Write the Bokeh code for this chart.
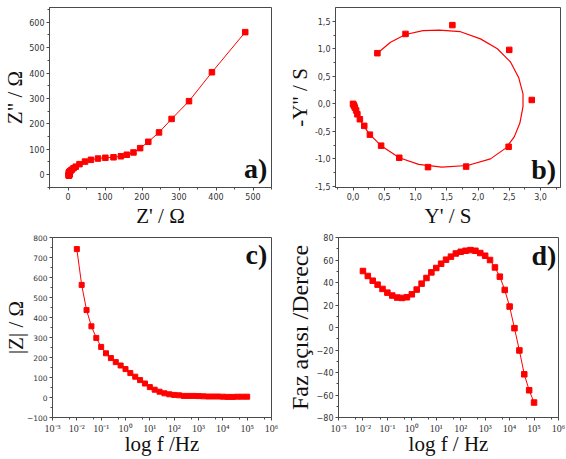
from bokeh.plotting import figure
from bokeh.layouts import column, row
from bokeh.models import FixedTicker, CustomJSTickFormatter, Label, Range1d
from bokeh.embed import file_html
from bokeh.resources import INLINE

# Measurement frequencies (Hz), five per decade
freq = [0.01, 0.0158, 0.0251, 0.0398, 0.0631, 0.1, 0.158, 0.251, 0.398, 0.631,
        1, 1.58, 2.51, 3.98, 6.31, 10, 15.8, 25.1, 39.8, 63.1,
        100, 158, 251, 398, 631, 1000, 1580, 2510, 3980, 6310,
        10000, 15800, 25100, 39800, 63100, 100000]

# Impedance modulus |Z| (ohm)
z_mod = [742, 563, 437, 356, 298, 253, 221, 197, 177, 160,
         142, 122, 104, 87, 70, 52, 39, 29, 21, 16,
         13, 11, 8, 8, 8, 7, 6, 5, 5, 5,
         4, 3, 3, 4, 4, 4]

# Phase angle (degrees)
phase = [50.2, 45.8, 41.6, 38.1, 34.3, 31.0, 28.4, 26.6, 26.3, 26.9,
         29.5, 33.7, 39.0, 44.0, 49.0, 52.9, 56.7, 60.3, 63.0, 65.8,
         67.3, 68.2, 68.8, 68.2, 66.2, 63.8, 60.0, 53.4, 45.2, 33.4,
         18.6, -0.6, -20.4, -41.6, -55.8, -66.7]

# Nyquist: real and imaginary impedance (ohm)
z_re = [479, 389, 327, 280, 246, 217, 195, 177, 159, 143,
        123, 101, 81, 62, 46, 31, 21, 15, 10, 7,
        5, 4, 3, 3, 3, 3, 3, 3, 3.5, 4,
        4, 3, 3, 3, 2, 2]
z_im = [561, 403, 289, 219, 166, 129, 104, 87, 78, 72,
        68, 66, 63, 58, 51, 41, 31, 25, 19, 15,
        12, 10, 8, 7, 7, 6, 5, 4, 3.5, 3,
        1, 0, -1, -3, -3, -4]

# Admittance plane points (S)
y_re = [0.39, 0.84, 1.59, 2.50, 2.86, 2.49, 1.81, 1.20, 0.74, 0.45,
        0.27, 0.18, 0.11, 0.07, 0.05, 0.03, 0.02, 0.01, 0.0]
y_im = [0.92, 1.27, 1.43, 0.98, 0.07, -0.78, -1.14, -1.15, -0.98, -0.76,
        -0.56, -0.40, -0.28, -0.19, -0.12, -0.07, -0.04, -0.02, 0.0]

# Fitted admittance curve (S)
fit_re = [0.39, 0.60, 0.84, 1.12, 1.38, 1.72, 2.04, 2.31, 2.52, 2.65,
          2.72, 2.72, 2.67, 2.58, 2.45, 2.20, 1.83, 1.42, 1.05, 0.74,
          0.45, 0.27, 0.17, 0.09, 0.03, 0.0]
fit_im = [0.92, 1.12, 1.26, 1.33, 1.34, 1.31, 1.18, 1.00, 0.76, 0.48,
          0.18, -0.05, -0.35, -0.60, -0.80, -1.00, -1.12, -1.15, -1.10, -0.98,
          -0.76, -0.56, -0.40, -0.24, -0.09, 0.0]

RED = "#ff0000"
FRAME = "#4a4a4a"
SERIF = "Liberation Serif"
SANS = "DejaVu Sans"

LOG_FMT = CustomJSTickFormatter(code="""
const sup = {'-': '\u207b', '0': '\u2070', '1': '\u00b9', '2': '\u00b2', '3': '\u00b3',
             '4': '\u2074', '5': '\u2075', '6': '\u2076', '7': '\u2077', '8': '\u2078', '9': '\u2079'};
const e = Math.round(Math.log10(tick));
return '10' + String(e).split('').map(c => sup[c]).join('');
""")
COMMA_FMT = CustomJSTickFormatter(code="return tick.toFixed(1).replace('.', ',');")


def panel(w, h, left, right, top, bottom, xr, yr, x_type="linear"):
    p = figure(width=w, height=h, x_range=Range1d(*xr), y_range=Range1d(*yr),
               x_axis_type=x_type, output_backend="svg", toolbar_location=None,
               min_border_left=left, min_border_right=right,
               min_border_top=top, min_border_bottom=bottom)
    p.xgrid.visible = False
    p.ygrid.visible = False
    p.outline_line_color = FRAME
    p.outline_line_width = 1
    p.outline_line_alpha = 1
    for ax in (p.xaxis[0], p.yaxis[0]):
        ax.axis_line_color = FRAME
        ax.major_tick_line_color = FRAME
        ax.minor_tick_line_color = FRAME
        ax.major_tick_in = 0
        ax.major_tick_out = 3
        ax.minor_tick_in = 0
        ax.minor_tick_out = 2
        ax.major_label_standoff = 2
        ax.major_label_text_font = SANS
        ax.major_label_text_font_size = "8px"
        ax.major_label_text_line_height = 1.0
        ax.major_label_text_color = "#333333"
        ax.axis_label_text_font = SERIF
        ax.axis_label_text_font_size = "21px"
        ax.axis_label_text_line_height = 1.0
        ax.axis_label_text_font_style = "normal"
        ax.axis_label_text_color = "#111111"
        ax.axis_label_standoff = 2
    p.xaxis[0].axis_label_standoff = 1
    return p


def tag(p, x, y, text):
    p.add_layout(Label(x=x, y=y, text=text, text_font=SERIF, text_font_style="bold",
                       text_font_size="28px", text_align="right",
                       text_baseline="alphabetic", text_color="#111111"))


def log_x(p, label):
    ax = p.xaxis[0]
    ax.ticker = FixedTicker(ticks=[1e-3, 1e-2, 1e-1, 1, 1e1, 1e2, 1e3, 1e4, 1e5, 1e6],
                            minor_ticks=[5e-3, 5e-2, 5e-1, 5, 5e1, 5e2, 5e3, 5e4, 5e5])
    ax.formatter = LOG_FMT
    ax.major_label_text_font = SERIF
    ax.major_label_text_font_size = "10px"
    ax.axis_label = label
    ax.axis_label_standoff = -5


# a) Nyquist plot
pa = panel(283, 230, 49, 12, 5, 43, (-50, 550), (-51, 658))
pa.xaxis[0].ticker = FixedTicker(ticks=[0, 100, 200, 300, 400, 500],
                                 minor_ticks=[-50, 50, 150, 250, 350, 450, 550])
pa.yaxis[0].ticker = FixedTicker(ticks=[0, 100, 200, 300, 400, 500, 600],
                                 minor_ticks=[-50, 50, 150, 250, 350, 450, 550, 650])
pa.xaxis[0].axis_label = "Z' / \u03a9"
pa.yaxis[0].axis_label = 'Z" / \u03a9'
pa.yaxis[0].axis_label_standoff = -1
pa.line(z_re, z_im, line_color=RED, line_width=1)
pa.scatter(z_re, z_im, marker="square", size=5.5, fill_color=RED, line_color=RED)
tag(pa, 539, 23, "a)")

# b) Admittance plot with fitted curve
pb = panel(283, 230, 52, 6, 7, 42, (-0.28, 3.32), (-1.52, 1.75))
pb.xaxis[0].ticker = FixedTicker(ticks=[0, 0.5, 1.0, 1.5, 2.0, 2.5, 3.0],
                                 minor_ticks=[-0.25, 0.25, 0.75, 1.25, 1.75, 2.25, 2.75, 3.25])
pb.yaxis[0].ticker = FixedTicker(ticks=[-1.5, -1.0, -0.5, 0, 0.5, 1.0, 1.5],
                                 minor_ticks=[-1.25, -0.75, -0.25, 0.25, 0.75, 1.25])
pb.xaxis[0].formatter = COMMA_FMT
pb.yaxis[0].formatter = COMMA_FMT
pb.xaxis[0].axis_label = "Y' / S"
pb.yaxis[0].axis_label = '-Y" / S'
pb.yaxis[0].axis_label_standoff = 0
pb.line(fit_re, fit_im, line_color=RED, line_width=1.2)
pb.scatter(y_re, y_im, marker="square", size=5.5, fill_color=RED, line_color=RED)
tag(pb, 3.25, -1.185, "b)")

# c) Bode modulus
pc = panel(283, 229, 49, 12, 7, 42, (1e-3, 1e6), (-100, 800), x_type="log")
log_x(pc, "log f /Hz")
pc.yaxis[0].ticker = FixedTicker(ticks=[-100, 0, 100, 200, 300, 400, 500, 600, 700, 800],
                                 minor_ticks=[-50, 50, 150, 250, 350, 450, 550, 650, 750])
pc.yaxis[0].axis_label = "|Z| / \u03a9"
pc.yaxis[0].major_label_text_font_size = "7.5px"
pc.yaxis[0].axis_label_standoff = -4
pc.line(freq, z_mod, line_color=RED, line_width=1)
pc.scatter(freq, z_mod, marker="square", size=5, fill_color=RED, line_color=RED)
tag(pc, 6.7e5, 715, "c)")

# d) Bode phase
pd = panel(283, 229, 51, 8, 7, 42, (1e-3, 1e6), (-80, 80), x_type="log")
log_x(pd, "log f / Hz")
pd.yaxis[0].ticker = FixedTicker(ticks=[-80, -60, -40, -20, 0, 20, 40, 60, 80],
                                 minor_ticks=[-70, -50, -30, -10, 10, 30, 50, 70])
pd.yaxis[0].axis_label = "Faz a\u00e7\u0131s\u0131 /Derece"
pd.yaxis[0].axis_label_text_font_size = "24px"
pd.yaxis[0].axis_label_standoff = 1
pd.line(freq, phase, line_color=RED, line_width=1)
pd.scatter(freq, phase, marker="square", size=5.5, fill_color=RED, line_color=RED)
tag(pd, 8.2e5, 63.7, "d)")

layout = column(row(pa, pb), row(pc, pd))

with open("out.html", "w") as f:
    f.write(file_html(layout, INLINE))
